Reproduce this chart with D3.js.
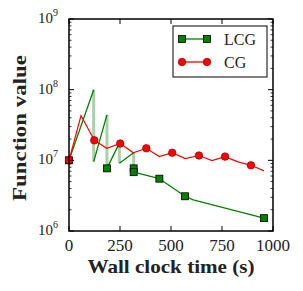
<!DOCTYPE html>
<html>
<head>
<meta charset="utf-8">
<script src="https://cdn.jsdelivr.net/npm/d3@7"></script>
<style>
  body { margin: 0; background: #fff; }
  text { font-family: "Liberation Serif", "DejaVu Serif", serif; fill: #222; }
</style>
</head>
<body>
<div id="chart"></div>
<script>
// LCG run: rising segments are trial steps, equal times mean a drop back
var lcgTime  = [0, 121, 121, 186, 186, 247, 247, 317, 317, 317, 443, 569, 609, 956];
var lcgValue = [1.0e7, 1.0e8, 9.6e6, 4.4e7, 7.7e6, 1.75e7, 9.1e6, 1.28e7, 7.7e6, 6.8e6, 5.5e6, 3.1e6, 2.75e6, 1.52e6];
var lcgMark  = [1, 0, 0, 0, 1, 0, 0, 0, 1, 1, 1, 1, 0, 1];

// CG run, marker on every other point
var cgTime  = [0, 59, 124, 185, 251, 315, 379, 443, 506, 570, 637, 701, 765, 828, 892, 956];
var cgValue = [1.0e7, 4.3e7, 1.92e7, 1.48e7, 1.73e7, 1.28e7, 1.48e7, 1.13e7, 1.28e7, 1.06e7, 1.17e7, 0.99e7, 1.13e7, 9.5e6, 8.5e6, 7.1e6];

var xTicks = [0, 250, 500, 750, 1000];
var yDecades = [6, 7, 8, 9];
var seriesNames = ["LCG", "CG"];

var width = 303, height = 291;
var pL = 69, pR = 273, pT = 19, pB = 231;

var svg = d3.select("#chart").append("svg")
  .attr("width", width)
  .attr("height", height);

var x = d3.scaleLinear().domain([0, 1000]).range([pL, pR]);
var y = d3.scaleLog().domain([1e6, 1e9]).range([pB, pT]);

var green = "#008000", red = "#ff0000";

// clip for plot area
svg.append("clipPath").attr("id", "clip")
  .append("rect").attr("x", pL).attr("y", pT).attr("width", pR - pL).attr("height", pB - pT);

var plot = svg.append("g").attr("clip-path", "url(#clip)");

/* ------- LCG -------*/
var lcg = lcgTime.map(function (t, i) { return { t: t, v: lcgValue[i], m: lcgMark[i] }; });
var segs = [];
for (var i = 1; i < lcg.length; i++) segs.push([lcg[i - 1], lcg[i]]);

plot.selectAll("line.lcg")
  .data(segs)
  .enter().append("line")
  .attr("class", "lcg")
  .attr("x1", function (d) { return x(d[0].t); })
  .attr("y1", function (d) { return y(d[0].v); })
  .attr("x2", function (d) { return x(d[1].t); })
  .attr("y2", function (d) { return y(d[1].v); })
  .attr("stroke", green)
  .attr("stroke-opacity", function (d) { return d[0].t === d[1].t ? 0.35 : 1; })
  .attr("stroke-width", function (d) { return d[0].t === d[1].t ? 3 : 1.3; });

svg.selectAll("rect.lcgm")
  .data(lcg.filter(function (d) { return d.m; }))
  .enter().append("rect")
  .attr("class", "lcgm")
  .attr("x", function (d) { return x(d.t) - 3.5; })
  .attr("y", function (d) { return y(d.v) - 3.5; })
  .attr("width", 7).attr("height", 7)
  .attr("fill", green).attr("stroke", "#000").attr("stroke-width", 0.8);

/* ------- CG -------*/
var cg = cgTime.map(function (t, i) { return { t: t, v: cgValue[i] }; });
var line = d3.line().x(function (d) { return x(d.t); }).y(function (d) { return y(d.v); });

plot.append("path")
  .datum(cg)
  .attr("d", line)
  .attr("fill", "none")
  .attr("stroke", red)
  .attr("stroke-width", 1.2);

svg.selectAll("circle.cgm")
  .data(cg.filter(function (d, i) { return i % 2 === 0; }))
  .enter().append("circle")
  .attr("class", "cgm")
  .attr("cx", function (d) { return x(d.t); })
  .attr("cy", function (d) { return y(d.v); })
  .attr("r", 3.8)
  .attr("fill", red).attr("stroke", "#600").attr("stroke-width", 0.6);

/* ------- AXES -------*/
var axes = svg.append("g");
var minor = [];
yDecades.slice(0, -1).forEach(function (e) {
  for (var k = 2; k <= 9; k++) minor.push(k * Math.pow(10, e));
});

// y ticks, left and right, inward
yDecades.forEach(function (e) {
  var yy = y(Math.pow(10, e));
  axes.append("line").attr("x1", pL).attr("x2", pL + 5).attr("y1", yy).attr("y2", yy).attr("stroke", "#000");
  axes.append("line").attr("x1", pR).attr("x2", pR - 5).attr("y1", yy).attr("y2", yy).attr("stroke", "#000");
});
minor.forEach(function (v) {
  var yy = y(v);
  axes.append("line").attr("x1", pL).attr("x2", pL + 2.5).attr("y1", yy).attr("y2", yy).attr("stroke", "#000").attr("stroke-width", 0.8);
  axes.append("line").attr("x1", pR).attr("x2", pR - 2.5).attr("y1", yy).attr("y2", yy).attr("stroke", "#000").attr("stroke-width", 0.8);
});
// x ticks, bottom and top
xTicks.forEach(function (t) {
  var xx = x(t);
  axes.append("line").attr("x1", xx).attr("x2", xx).attr("y1", pB).attr("y2", pB - 5).attr("stroke", "#000");
  axes.append("line").attr("x1", xx).attr("x2", xx).attr("y1", pT).attr("y2", pT + 5).attr("stroke", "#000");
});

axes.append("rect")
  .attr("x", pL).attr("y", pT)
  .attr("width", pR - pL).attr("height", pB - pT)
  .attr("fill", "none").attr("stroke", "#000").attr("stroke-width", 1.5);

// tick labels
axes.selectAll("text.xt")
  .data(xTicks)
  .enter().append("text")
  .attr("class", "xt")
  .attr("x", function (d) { return x(d); })
  .attr("y", 251)
  .attr("text-anchor", "middle")
  .attr("font-size", 17)
  .text(function (d) { return d; });

yDecades.forEach(function (e) {
  var t = axes.append("text")
    .attr("x", 58)
    .attr("y", y(Math.pow(10, e)) + 4)
    .attr("text-anchor", "end")
    .attr("font-size", 15);
  t.append("tspan").text("10");
  t.append("tspan").attr("dy", -7).attr("font-size", 10).text(e);
});

// axis titles
svg.append("text")
  .attr("x", (pL + pR) / 2)
  .attr("y", 273)
  .attr("text-anchor", "middle")
  .attr("font-size", 19)
  .attr("font-weight", "bold")
  .attr("textLength", 167)
  .attr("lengthAdjust", "spacingAndGlyphs")
  .text("Wall clock time (s)");

svg.append("text")
  .attr("transform", "translate(26," + 128 + ") rotate(-90)")
  .attr("text-anchor", "middle")
  .attr("font-size", 19)
  .attr("font-weight", "bold")
  .attr("textLength", 146)
  .attr("lengthAdjust", "spacingAndGlyphs")
  .text("Function value");

/* ------- LEGEND -------*/
var lg = svg.append("g");
lg.append("rect")
  .attr("x", 173).attr("y", 26).attr("width", 94).attr("height", 51)
  .attr("fill", "#fff").attr("stroke", "#000").attr("stroke-width", 1);

seriesNames.forEach(function (name, i) {
  var yy = 39 + i * 23;
  var col = i === 0 ? green : red;
  lg.append("line").attr("x1", 182).attr("x2", 207).attr("y1", yy).attr("y2", yy)
    .attr("stroke", col).attr("stroke-width", 1.3);
  [182, 207].forEach(function (xx) {
    if (i === 0) {
      lg.append("rect").attr("x", xx - 3.5).attr("y", yy - 3.5).attr("width", 7).attr("height", 7)
        .attr("fill", green).attr("stroke", "#000").attr("stroke-width", 0.8);
    } else {
      lg.append("circle").attr("cx", xx).attr("cy", yy).attr("r", 3.8)
        .attr("fill", red).attr("stroke", "#600").attr("stroke-width", 0.6);
    }
  });
  lg.append("text").attr("x", 224).attr("y", yy + 6).attr("font-size", 16).text(name);
});
</script>
</body>
</html>
